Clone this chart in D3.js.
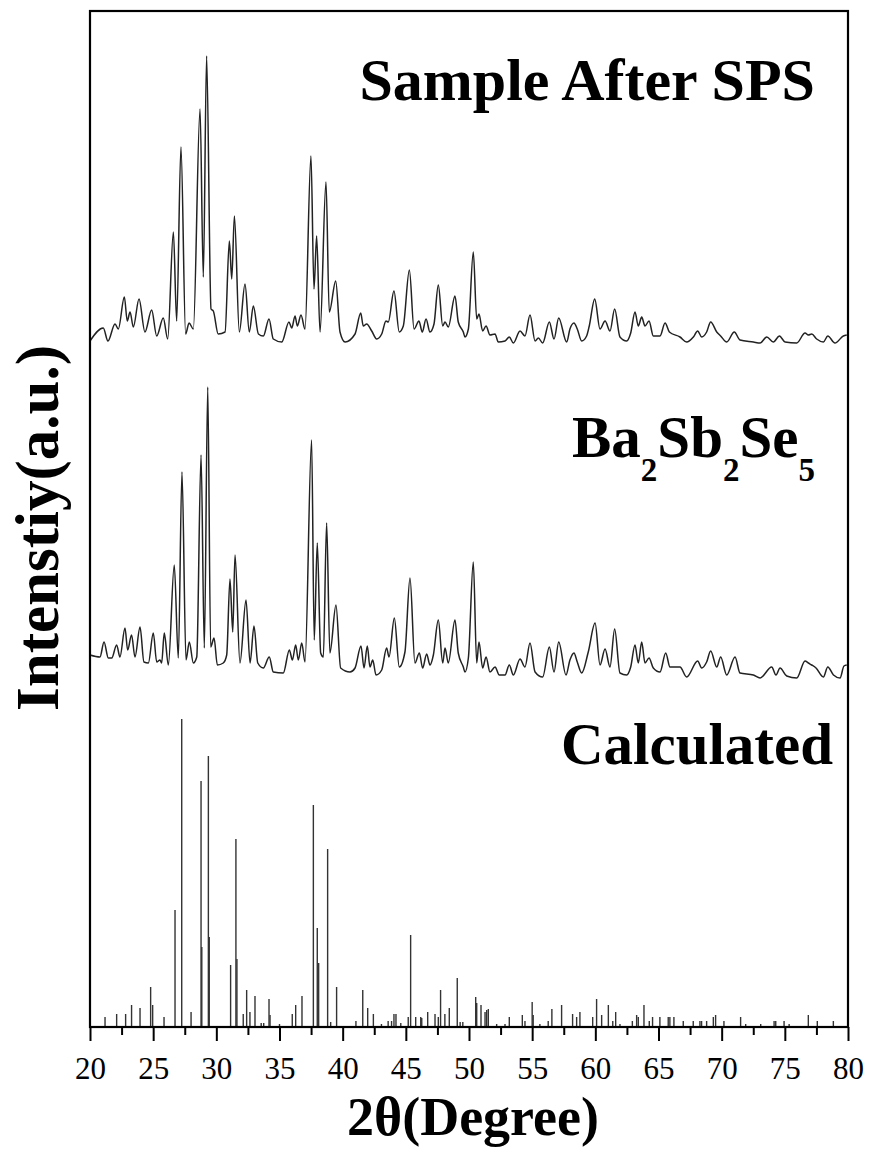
<!DOCTYPE html>
<html>
<head>
<meta charset="utf-8">
<script src="https://cdn.jsdelivr.net/npm/d3@7"></script>
<style>
  body { margin: 0; background: #fff; }
  text { font-family: "Liberation Serif", "Times New Roman", serif; }
</style>
</head>
<body>
<svg id="xrd" width="873" height="1149"></svg>
<script>
// [2theta, intensity] pairs, a.u.
const sampleSPS = [
  [20.0,2],[21.05,15],[21.42,2],[21.98,19],[22.24,14],[22.72,46],[22.95,22],[23.17,31],[23.43,16],[23.88,44],
  [24.35,11],[24.88,33],[25.28,7],[25.80,25],[26.15,4],[26.60,111],[26.86,22],[27.20,196],[27.57,9],[27.84,20],
  [28.18,14],[28.71,234],[28.97,66],[29.23,287],[29.58,34],[29.76,32],[30.15,9],[30.69,11],[31.03,102],[31.22,64],
  [31.43,127],[31.82,11],[32.27,59],[32.61,11],[32.93,37],[33.33,9],[33.72,7],[34.17,24],[34.51,4],[35.18,1],
  [35.75,21],[35.97,15],[36.23,27],[36.41,17],[36.70,28],[37.02,14],[37.49,187],[37.73,54],[37.94,107],[38.21,11],
  [38.68,161],[38.94,31],[39.45,62],[39.79,11],[40.19,1],[40.98,9],[41.43,30],[41.63,17],[41.90,19],[42.30,12],
  [42.69,4],[43.09,9],[43.43,22],[43.61,21],[44.06,52],[44.48,11],[44.80,17],[45.28,73],[45.65,14],[46.04,22],
  [46.30,11],[46.60,24],[46.91,11],[47.23,19],[47.57,58],[47.92,17],[48.10,21],[48.36,16],[48.89,47],[49.15,21],
  [49.55,11],[49.68,6],[49.95,14],[50.34,91],[50.61,24],[50.79,29],[51.08,12],[51.35,17],[51.66,8],[52.06,9],
  [52.32,1],[52.85,2],[53.19,6],[53.51,0],[54.04,12],[54.43,7],[54.83,28],[55.23,2],[55.49,5],[55.83,0],
  [56.36,21],[56.73,4],[57.10,25],[57.73,1],[57.99,14],[58.31,20],[58.57,14],[58.92,2],[59.31,7],[59.52,17],
  [59.95,44],[60.37,14],[60.77,22],[61.16,12],[61.53,34],[61.95,6],[62.48,2],[62.80,10],[63.14,31],[63.40,17],
  [63.67,26],[63.93,17],[64.25,22],[64.59,7],[65.12,7],[65.52,20],[65.86,11],[66.70,6],[67.23,1],[67.76,6],
  [68.10,12],[68.42,6],[68.81,11],[69.13,21],[69.61,11],[69.92,7],[70.40,1],[71.00,11],[71.45,3],[72.51,1],
  [73.04,0],[73.57,6],[74.09,1],[74.57,7],[75.02,1],[75.94,0],[76.60,10],[76.86,8],[77.13,9],[77.52,4],
  [78.05,1],[78.40,7],[78.97,0],[79.63,7],[79.90,8]
];

const measured = [
  [20.0,23],[20.79,21],[21.11,36],[21.45,20],[21.72,20],[22.11,33],[22.37,21],[22.77,50],[22.98,28],[23.29,43],
  [23.56,21],[23.96,51],[24.27,16],[24.62,15],[25.01,45],[25.28,16],[25.54,18],[25.67,15],[25.88,45],[26.20,13],
  [26.67,113],[26.99,20],[27.28,206],[27.60,18],[27.86,36],[28.18,15],[28.45,21],[28.79,223],[29.05,30],[29.32,291],
  [29.55,31],[29.82,40],[30.08,13],[30.55,15],[30.82,23],[31.08,99],[31.30,46],[31.48,123],[31.87,15],[32.35,78],
  [32.67,15],[32.98,52],[33.28,15],[33.72,10],[34.19,21],[34.51,6],[35.30,5],[35.78,28],[36.02,18],[36.28,33],
  [36.49,18],[36.76,35],[37.02,16],[37.54,238],[37.75,38],[37.99,135],[38.26,25],[38.47,21],[38.73,155],[38.99,25],
  [39.47,73],[39.84,10],[40.58,6],[40.98,10],[41.45,32],[41.69,10],[41.95,32],[42.16,11],[42.38,18],[42.64,3],
  [43.09,8],[43.48,30],[43.67,21],[44.09,60],[44.48,11],[44.93,26],[45.33,100],[45.72,15],[46.07,25],[46.33,10],
  [46.65,24],[46.91,13],[47.18,23],[47.57,58],[47.92,15],[48.10,30],[48.36,15],[48.89,58],[49.15,25],[49.55,11],
  [49.68,6],[49.95,20],[50.34,116],[50.61,15],[50.79,36],[51.08,10],[51.35,21],[51.66,6],[52.06,11],[52.40,3],
  [52.85,3],[53.19,13],[53.51,3],[54.04,19],[54.43,11],[54.83,35],[55.23,6],[55.83,1],[56.36,31],[56.73,6],
  [57.10,36],[57.68,3],[57.99,18],[58.31,25],[58.57,16],[58.92,5],[59.44,26],[59.98,55],[60.37,13],[60.77,29],
  [61.16,11],[61.53,49],[61.95,5],[62.48,3],[62.80,11],[63.14,33],[63.40,15],[63.67,36],[63.93,15],[64.25,20],
  [64.59,10],[65.12,6],[65.57,25],[65.91,11],[66.70,11],[67.23,1],[68.10,17],[68.42,10],[68.81,16],[69.13,27],
  [69.61,11],[69.92,21],[70.40,3],[71.06,21],[71.45,5],[72.51,3],[73.04,0],[73.96,11],[74.30,3],[74.62,10],
  [75.15,2],[75.94,0],[76.60,17],[76.86,15],[77.13,13],[77.47,10],[78.05,1],[78.40,11],[78.85,3],[79.37,0],
  [79.68,12],[79.90,13]
];

// calculated reflections, stick pattern
const calculated = [
  [20.0,341],[21.19,10],[22.11,13],[22.82,13],[23.29,22],[23.96,19],[24.80,40],[24.96,22],[25.86,10],[26.73,117],
  [27.26,308],[28.00,15],[28.79,246],[28.85,80],[29.37,271],[29.44,90],[31.13,62],[31.55,188],[31.63,68],[32.13,13],
  [32.40,37],[32.66,15],[33.06,31],[33.55,4],[33.75,4],[34.17,28],[34.25,12],[35.00,3],[36.01,13],[36.28,22],
  [36.78,31],[37.68,222],[37.99,99],[38.10,64],[38.81,178],[39.05,5],[39.52,40],[41.05,6],[41.59,37],[41.98,19],
  [42.43,13],[43.07,3],[43.60,6],[43.87,6],[44.06,13],[44.22,13],[44.60,4],[45.19,10],[45.38,92],[45.78,10],
  [46.18,10],[46.26,9],[46.73,15],[47.31,13],[47.57,10],[47.75,37],[48.09,13],[48.44,19],[49.07,49],[49.30,5],
  [49.51,5],[50.53,30],[50.61,24],[50.95,22],[51.27,15],[51.40,17],[51.53,18],[52.19,3],[52.85,3],[53.19,10],
  [54.22,12],[54.43,6],[55.00,25],[55.08,12],[55.61,3],[56.27,6],[56.56,18],[57.33,22],[58.20,13],[58.52,10],
  [58.78,15],[59.79,10],[60.10,28],[60.50,12],[61.03,22],[61.38,6],[61.61,15],[61.95,3],[62.93,6],[63.27,12],
  [63.40,10],[63.85,22],[64.27,6],[64.53,10],[65.11,10],[65.77,10],[65.90,10],[66.22,10],[66.96,6],[67.75,6],
  [68.28,6],[68.41,6],[68.81,6],[69.34,10],[69.52,12],[70.18,6],[71.50,10],[71.90,3],[73.09,3],[74.15,6],
  [74.28,6],[74.94,6],[75.34,3],[76.86,12],[77.57,6],[78.84,6]
];

const offsets = { sample: 684, measured: 349, calculated: 0 };
const majorTicks = [20, 25, 30, 35, 40, 45, 50, 55, 60, 65, 70, 75, 80];
const minorTicks = [22.5, 27.5, 32.5, 37.5, 42.5, 47.5, 52.5, 57.5, 62.5, 67.5, 72.5, 77.5];

const svg = d3.select("#xrd");
const margin = { top: 11, right: 25, bottom: 122, left: 90 };
const width = +svg.attr("width") - margin.left - margin.right;
const height = +svg.attr("height") - margin.top - margin.bottom;

const xScale = d3.scaleLinear().domain([20, 80]).range([0, width]);
const yScale = d3.scaleLinear().domain([0, 1016]).range([height, 0]);

const g = svg.append("g")
    .attr("transform", "translate(" + margin.left + "," + margin.top + ")");

function pattern(off) {
  return d3.line()
    .curve(d3.curveMonotoneX)
    .x(d => xScale(d[0]))
    .y(d => yScale(d[1] + off));
}

g.append("path")
    .datum(sampleSPS)
    .attr("d", pattern(offsets.sample))
    .attr("fill", "none")
    .attr("stroke", "#222")
    .attr("stroke-width", 1.5)
    .attr("stroke-linejoin", "round");

g.append("path")
    .datum(measured)
    .attr("d", pattern(offsets.measured))
    .attr("fill", "none")
    .attr("stroke", "#222")
    .attr("stroke-width", 1.5)
    .attr("stroke-linejoin", "round");

g.selectAll(".stick")
  .data(calculated)
  .enter().append("line")
    .attr("class", "stick")
    .attr("x1", d => xScale(d[0]))
    .attr("x2", d => xScale(d[0]))
    .attr("y1", yScale(offsets.calculated))
    .attr("y2", d => yScale(d[1] + offsets.calculated))
    .attr("stroke", "#333")
    .attr("stroke-width", 1.4);

// x axis
const xAxis = d3.axisBottom(xScale)
    .tickValues(majorTicks)
    .tickFormat(d3.format("d"))
    .tickSize(14)
    .tickSizeOuter(0)
    .tickPadding(16);

const ax = g.append("g")
    .attr("transform", "translate(0," + height + ")")
    .call(xAxis);
ax.select(".domain").remove();
ax.selectAll("line").attr("stroke", "#000").attr("stroke-width", 2);
ax.selectAll("text")
    .attr("fill", "#000")
    .style("font-size", "31px");

// minor ticks, no labels
const minor = g.append("g")
    .attr("transform", "translate(0," + height + ")")
    .call(d3.axisBottom(xScale).tickValues(minorTicks).tickSize(8).tickSizeOuter(0));
minor.select(".domain").remove();
minor.selectAll("text").remove();
minor.selectAll("line").attr("stroke", "#000").attr("stroke-width", 2);

// frame
g.append("rect")
    .attr("width", width)
    .attr("height", height)
    .attr("fill", "none")
    .attr("stroke", "#000")
    .attr("stroke-width", 2.2);

// labels
const lab = g.append("g").style("font-weight", "bold").style("font-size", "59px");

lab.append("text")
    .attr("x", 815 - margin.left)
    .attr("y", 100 - margin.top)
    .attr("text-anchor", "end")
    .style("font-size", "60px")
    .text("Sample After SPS");

const ba = lab.append("text")
    .attr("x", 572 - margin.left)
    .attr("y", 457 - margin.top);
[["Ba", false], ["2", true], ["Sb", false], ["2", true], ["Se", false], ["5", true]].forEach(p => {
  ba.append("tspan")
    .attr("dy", p[1] ? 24 : (p[0] === "Ba" ? 0 : -24))
    .style("font-size", p[1] ? "33px" : "59px")
    .text(p[0]);
});

lab.append("text")
    .attr("x", 833 - margin.left)
    .attr("y", 764 - margin.top)
    .attr("text-anchor", "end")
    .text("Calculated");

svg.append("text")
    .attr("transform", "translate(58,528) rotate(-90)")
    .attr("text-anchor", "middle")
    .style("font-weight", "bold")
    .style("font-size", "61px")
    .text("Intenstiy(a.u.)");

svg.append("text")
    .attr("x", 473)
    .attr("y", 1135)
    .attr("text-anchor", "middle")
    .style("font-weight", "bold")
    .style("font-size", "54px")
    .text("2θ(Degree)");
</script>
</body>
</html>
